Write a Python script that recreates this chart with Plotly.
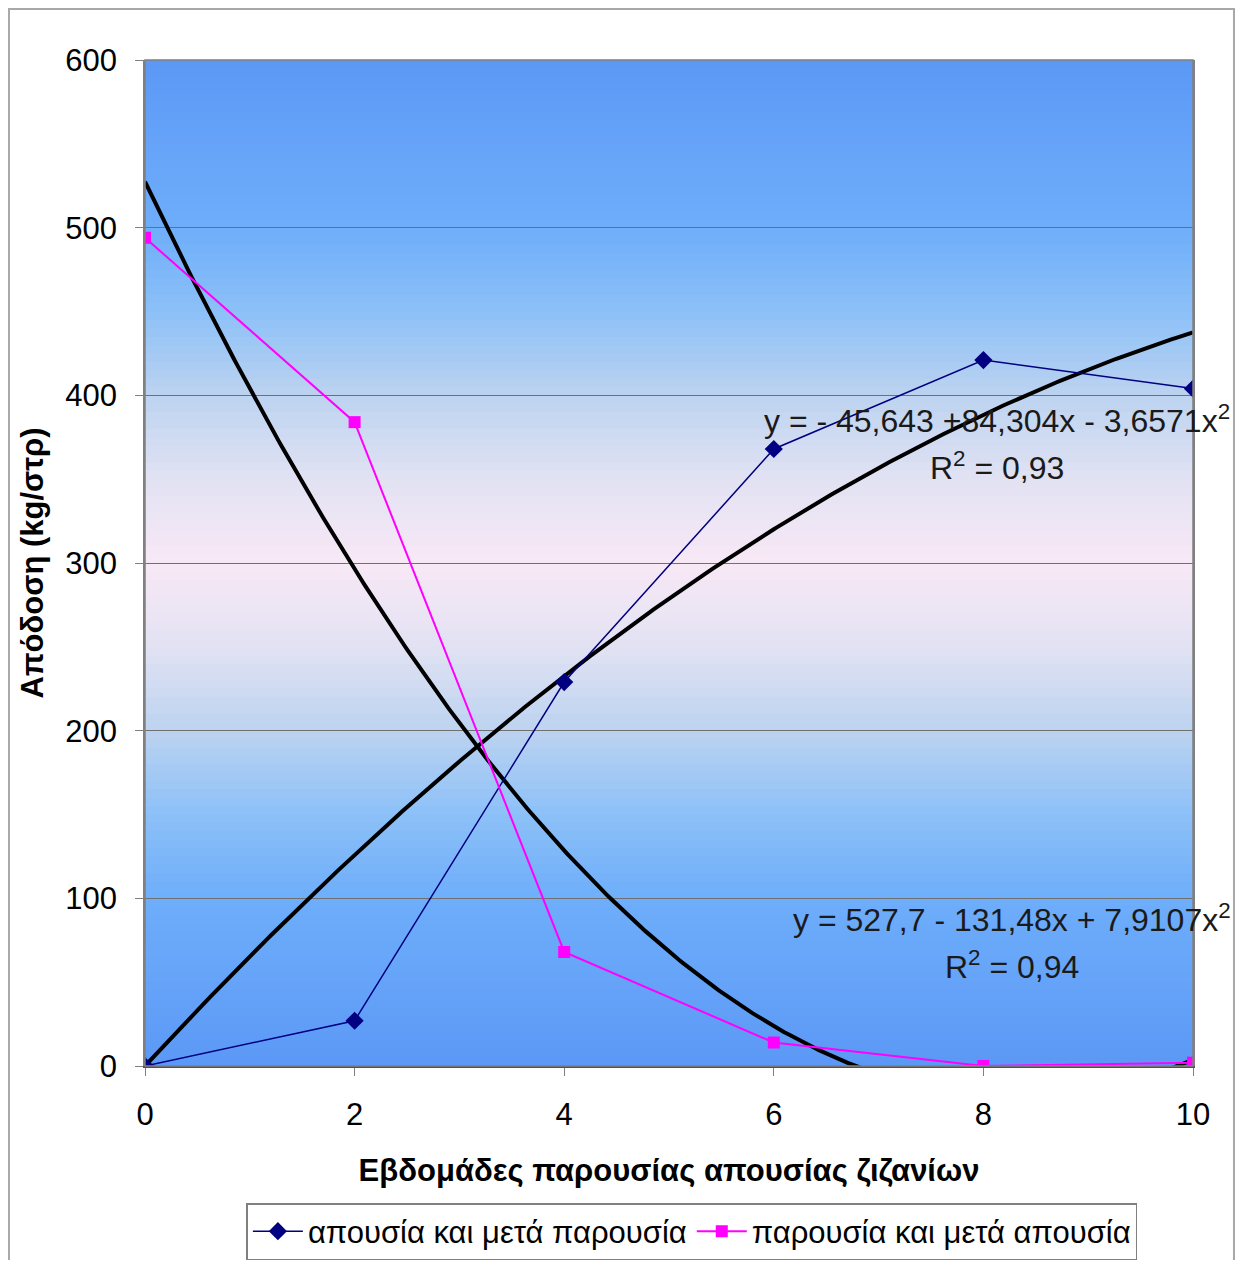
import numpy as np
import plotly.graph_objects as go

# ---- data ----
weeks = [0, 2, 4, 6, 8, 10]
absence_then_presence = [0, 27, 229, 368, 421, 404]
presence_then_absence = [494, 384, 68, 14, 0, 2]
series_names = ["απουσία και μετά παρουσία", "παρουσία και μετά απουσία"]
y_ticks = [0, 100, 200, 300, 400, 500, 600]
x_ticks = [0, 2, 4, 6, 8, 10]
eq1_text = "y = - 45,643 +84,304x - 3,6571x<sup>2</sup>"
r1_text = "R<sup>2</sup> = 0,93"
eq2_text = "y = 527,7 - 131,48x + 7,9107x<sup>2</sup>"
r2_text = "R<sup>2</sup> = 0,94"

FONT = "Liberation Sans, Arial, sans-serif"
FS = 31

x = np.array(weeks, dtype=float)
y1 = np.array(absence_then_presence, dtype=float)
y2 = np.array(presence_then_absence, dtype=float)

# trendline 1: quadratic through origin (least squares)
A = np.vstack([x, x**2]).T
b1, c1 = np.linalg.lstsq(A, y1, rcond=None)[0]
# trendline 2: full quadratic fit
p2 = np.polyfit(x, y2, 2)
xs = np.linspace(0, 10, 401)
t1 = b1 * xs + c1 * xs**2
t2 = np.polyval(p2, xs)

fig = go.Figure()
fig.add_trace(go.Scatter(x=xs, y=t1, mode="lines", line=dict(color="black", width=4),
                         showlegend=False, hoverinfo="skip"))
fig.add_trace(go.Scatter(x=xs, y=t2, mode="lines", line=dict(color="black", width=4),
                         showlegend=False, hoverinfo="skip"))
fig.add_trace(go.Scatter(x=weeks, y=absence_then_presence, name=series_names[0],
                         mode="lines+markers", line=dict(color="#000080", width=1.5),
                         marker=dict(symbol="diamond", size=14, color="#000080")))
fig.add_trace(go.Scatter(x=weeks, y=presence_then_absence, name=series_names[1],
                         mode="lines+markers", line=dict(color="#FF00FF", width=2),
                         marker=dict(symbol="square", size=12, color="#FF00FF")))

# gradient background bands
stops = [(600, (92, 152, 246)), (500, (110, 174, 250)), (450, (140, 192, 248)),
         (400, (188, 211, 240)), (350, (226, 226, 243)), (300, (248, 232, 246)),
         (250, (226, 226, 243)), (200, (188, 211, 240)), (150, (140, 192, 248)),
         (100, (110, 174, 250)), (0, (92, 152, 246))]
sv = np.array([s[0] for s in stops][::-1], dtype=float)
sc = np.array([s[1] for s in stops][::-1], dtype=float)
shapes = []
step = 5
for lo in range(0, 600, step):
    mid = lo + step / 2
    col = [np.interp(mid, sv, sc[:, k]) for k in range(3)]
    shapes.append(dict(type="rect", xref="paper", yref="y", x0=0, x1=1, y0=lo, y1=lo + step + 0.6,
                       fillcolor="rgb(%d,%d,%d)" % tuple(int(round(c)) for c in col),
                       line=dict(width=0), layer="below"))
# outer frame
shapes.append(dict(type="rect", xref="paper", yref="paper", x0=-0.1298, x1=1.0391,
                   y0=-0.3, y1=1.0507, line=dict(color="#A8A8A8", width=2), layer="above"))

annos = [
    dict(x=8.13, y=386, text=eq1_text),
    dict(x=8.13, y=358, text=r1_text),
    dict(x=8.27, y=88, text=eq2_text),
    dict(x=8.27, y=60, text=r2_text),
]
annotations = [dict(xref="x", yref="y", showarrow=False, xanchor="center", yanchor="middle",
                    font=dict(family=FONT, size=32, color="#1a1a1a"), **a) for a in annos]

fig.update_layout(
    width=1230, height=1252,
    margin=dict(l=137, r=45, t=52, b=194, autoexpand=False),
    paper_bgcolor="white", plot_bgcolor="#5C98F6",
    font=dict(family=FONT, size=FS, color="black"),
    shapes=shapes, annotations=annotations,
    legend=dict(orientation="h", xref="container", x=0.556, xanchor="center",
                yref="container", y=0.0455, yanchor="top",
                bordercolor="#808080", borderwidth=1.5, bgcolor="white",
                font=dict(family=FONT, size=31, color="black"), itemwidth=50,
                tracegroupgap=0),
    showlegend=True,
)
fig.update_xaxes(range=[0, 10], tickvals=x_ticks, ticks="outside", ticklen=8, tickcolor="#808080",
                 showgrid=False, zeroline=False, showline=True, linecolor="#505050", linewidth=2,
                 mirror=False, ticklabelstandoff=12, automargin=False,
                 title=dict(text="<b>Εβδομάδες παρουσίας απουσίας ζιζανίων</b>",
                            font=dict(family=FONT, size=FS), standoff=28))
fig.update_yaxes(range=[0, 600], tickvals=y_ticks, ticks="outside", ticklen=8, tickcolor="#808080",
                 showgrid=True, gridcolor="#707070", gridwidth=1, zeroline=False,
                 showline=True, linecolor="#808080", linewidth=1.5, mirror=True,
                 ticklabelstandoff=12, automargin=False,
                 title=dict(text="<b>Απόδοση (kg/στρ)</b>", font=dict(family=FONT, size=FS), standoff=12))
# right/top border
fig.add_shape(type="rect", xref="paper", yref="paper", x0=0, x1=1, y0=0, y1=1,
              line=dict(color="#808080", width=1.5), layer="above")

fig.write_html("out.html")
